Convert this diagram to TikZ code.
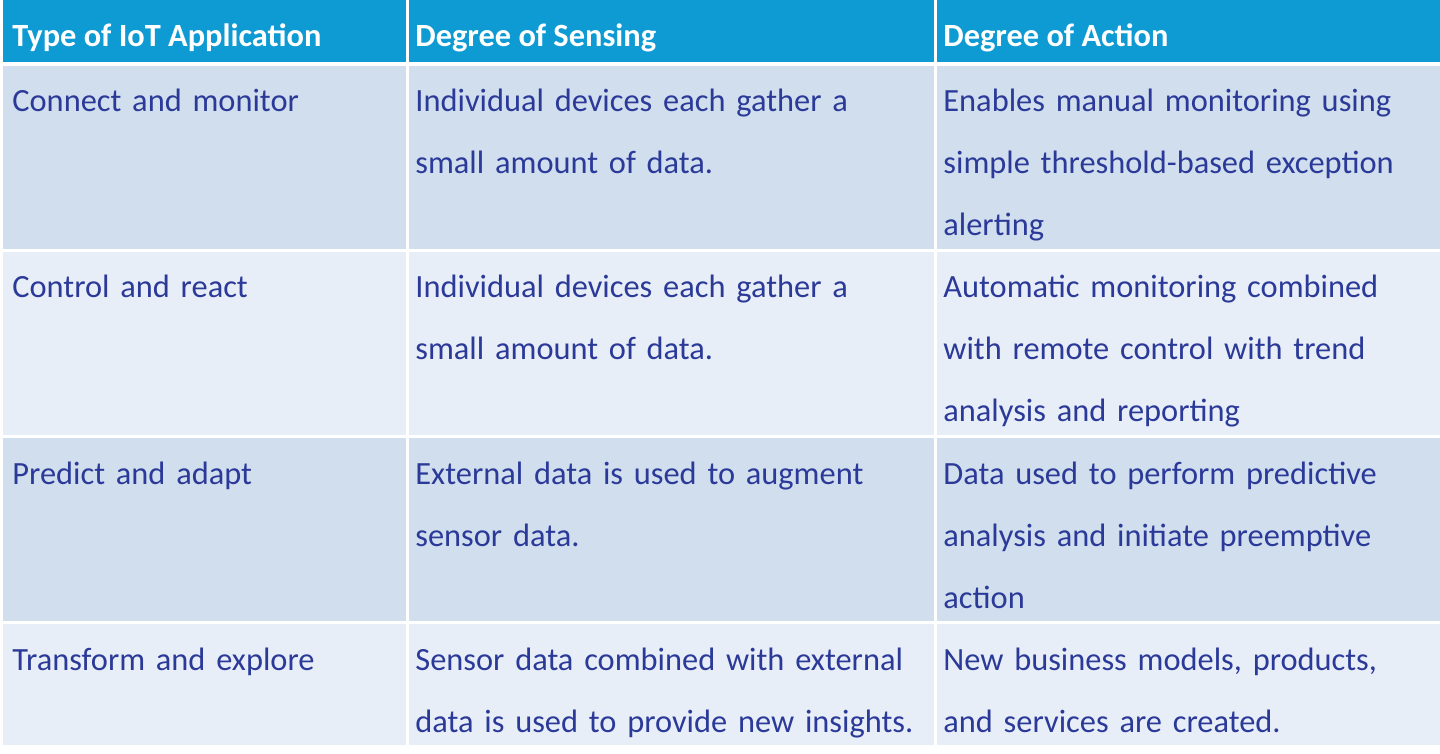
\documentclass[tikz,border=0pt]{standalone}
\usepackage{fontspec}
\setmainfont{Carlito}
\definecolor{headblue}{HTML}{0E9BD4}
\definecolor{rowdark}{HTML}{D0DEEE}
\definecolor{rowlight}{HTML}{E8EEF7}
\definecolor{inkblue}{HTML}{2B3A98}
\tikzset{
  cell/.style={anchor=base west,inner sep=0pt,align=left,text=inkblue,
    font=\fontsize{16.2pt}{31pt}\selectfont},
  headcell/.style={cell,text=white,font=\fontsize{16.2pt}{31pt}\selectfont\bfseries}
}
\begin{document}
\begin{tikzpicture}[x=0.5pt,y=-0.5pt]
  \useasboundingbox (0,0) rectangle (1440,754);
  %%%%%%%%% Sfondo %%%%%%%%%
  \fill[headblue] (3,0) rectangle (1440,62);
  \fill[rowdark] (3,66) rectangle (1440,249);
  \fill[rowlight] (3,252) rectangle (1440,435);
  \fill[rowdark] (3,438) rectangle (1440,621);
  \fill[rowlight] (3,624) rectangle (1440,745);
  \draw[white,line width=1.5pt] (407,0) -- (407,745);
  \draw[white,line width=1.5pt] (935,0) -- (935,745);

  %%%%%%%%% Intestazione %%%%%%%%%
  \node[headcell] (h1) at (12,47) {Type of IoT Application};
  \node[headcell] (h2) at (415,47) {Degree of Sensing};
  \node[headcell] (h3) at (943,47) {Degree of Action};

  %%%%%%%%% Testo %%%%%%%%%
  \node[cell,text width=390] (t1) at (12,112) {Connect and monitor};
  \node[cell,text width=515] (s1) at (415,112) {Individual devices each gather a\\small amount of data.};
  \node[cell,text width=495] (a1) at (943,112) {Enables manual monitoring using\\simple threshold-based exception\\alerting};

  \node[cell,text width=390] (t2) at (12,298) {Control and react};
  \node[cell,text width=515] (s2) at (415,298) {Individual devices each gather a\\small amount of data.};
  \node[cell,text width=495] (a2) at (943,298) {Automatic monitoring combined\\with remote control with trend\\analysis and reporting};

  \node[cell,text width=390] (t3) at (12,484) {Predict and adapt};
  \node[cell,text width=515] (s3) at (415,484) {External data is used to augment\\sensor data.};
  \node[cell,text width=495] (a3) at (943,484) {Data used to perform predictive\\analysis and initiate preemptive\\action};

  \node[cell,text width=390] (t4) at (12,670) {Transform and explore};
  \node[cell,text width=515] (s4) at (415,670) {Sensor data combined with external\\data is used to provide new insights.};
  \node[cell,text width=495] (a4) at (943,670) {New business models, products,\\and services are created.};
\end{tikzpicture}
\end{document}
